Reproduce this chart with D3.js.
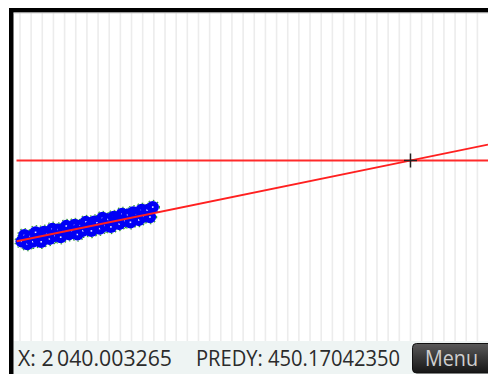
<!DOCTYPE html>
<html>
<head>
<meta charset="utf-8">
<script src="https://cdn.jsdelivr.net/npm/d3@7"></script>
<style>
  html, body { margin: 0; padding: 0; background: #fff; }
  svg { display: block; }
</style>
</head>
<body>
<svg id="chart" width="488" height="374"></svg>
<script>
// ---- data ----
const years = [1970.3,1970.8,1971.3,1971.8,1972.3,1972.8,1973.3,1973.8,1974.3,1974.8,
  1975.3,1975.8,1976.3,1976.8,1977.3,1977.8,1978.3,1978.8,1979.3,1979.8,
  1980.3,1980.8,1981.3,1981.8,1982.3,1982.8,1983.3,1983.8,1984.3,1984.8,
  1985.3,1985.8,1986.3,1986.8,1987.3,1987.8,1988.3,1988.8,1989.3,1989.8,
  1990.3,1990.8,1991.3,1991.8,1992.3,1992.8,1993.3,1993.8];
const values = [320.8,330.7,316.6,328.5,320.4,335.3,325.2,320.2,336.1,332.0,
  324.9,340.8,329.7,339.6,327.6,338.5,345.4,332.3,338.2,347.1,
  332.0,345.9,337.9,351.8,342.7,337.6,352.5,350.4,341.3,358.3,
  346.2,356.1,344.0,359.9,353.8,348.7,364.7,353.6,363.5,351.4,
  367.3,362.2,355.1,371.1,361.0,370.9,359.8,375.7];
const fitSlope = 1.828;
const traceX = 2040.003265;
const predY = 450.17042350;
const statusLabels = ["X: 2\u2009040.003265", "PREDY: 450.17042350"];
const menuLabel = "Menu";
const xDomain = [1968.75, 2053.9];
const yDomain = [160, 686];
const gridStep = 2;

// ---- layout ----
const svg = d3.select("#chart");
const W = 488, H = 374;
const plotLeft = 13.5, plotTop = 12.5, plotBottom = 341;
const x = d3.scaleLinear().domain(xDomain).range([13, 488]);
const y = d3.scaleLinear().domain(yDomain).range([342, 13]);
const fitIntercept = predY - fitSlope * traceX;
const fit = v => fitIntercept + fitSlope * v;

const defs = svg.append("defs");
defs.append("clipPath").attr("id", "plotclip").append("rect")
  .attr("x", plotLeft).attr("y", plotTop).attr("width", W - plotLeft).attr("height", plotBottom - plotTop);
const grad = defs.append("linearGradient").attr("id", "btn").attr("x1", 0).attr("y1", 0).attr("x2", 0).attr("y2", 1);
grad.append("stop").attr("offset", "0%").attr("stop-color", "#5a5a5a");
grad.append("stop").attr("offset", "45%").attr("stop-color", "#3a3a3a");
grad.append("stop").attr("offset", "100%").attr("stop-color", "#161616");

const plot = svg.append("g").attr("clip-path", "url(#plotclip)");

// grid
const gridVals = d3.range(1970, xDomain[1], gridStep);
plot.selectAll("line.grid").data(gridVals).join("line")
  .attr("class", "grid")
  .attr("x1", d => x(d)).attr("x2", d => x(d))
  .attr("y1", plotTop).attr("y2", plotBottom)
  .attr("stroke", "#ececec").attr("stroke-width", 1.6);

// scatter: green outline pass, then blue disks with white centre
const pts = years.map((yr, i) => ({ x: yr, y: values[i] }));
const R = 6.2;
plot.append("g").selectAll("circle").data(pts).join("circle")
  .attr("cx", d => x(d.x)).attr("cy", d => y(d.y)).attr("r", R + 0.5)
  .attr("fill", "none").attr("stroke", "#2e9e2e").attr("stroke-width", 1.2)
  .attr("stroke-dasharray", "1.5,3");
const pg = plot.append("g");
pts.forEach(d => {
  pg.append("circle").attr("cx", x(d.x)).attr("cy", y(d.y)).attr("r", R)
    .attr("fill", "#0000f5");
  pg.append("rect").attr("x", x(d.x) - 0.8).attr("y", y(d.y) - 0.8)
    .attr("width", 1.6).attr("height", 1.6).attr("fill", "#e8e8ff");
});

// horizontal prediction line
plot.append("line")
  .attr("x1", 16.5).attr("x2", W)
  .attr("y1", y(predY)).attr("y2", y(predY))
  .attr("stroke", "#ff2a2a").attr("stroke-width", 1.8);

// regression line
const xa = x.invert(16.7), xb = xDomain[1];
plot.append("line")
  .attr("x1", x(xa)).attr("y1", y(fit(xa)))
  .attr("x2", x(xb)).attr("y2", y(fit(xb)))
  .attr("stroke", "#ff2020").attr("stroke-width", 1.9);

// crosshair
const cx = x(traceX), cy = y(predY);
plot.append("line").attr("x1", cx).attr("x2", cx).attr("y1", cy - 7).attr("y2", cy + 7)
  .attr("stroke", "#222").attr("stroke-width", 1.5);
plot.append("line").attr("x1", cx - 6.5).attr("x2", cx + 6.5).attr("y1", cy).attr("y2", cy)
  .attr("stroke", "#222").attr("stroke-width", 1.5);

// status bar
svg.append("rect").attr("x", plotLeft).attr("y", plotBottom).attr("width", W - plotLeft).attr("height", H - plotBottom)
  .attr("fill", "#eef4f3");
const font = "'Open Sans', 'DejaVu Sans', sans-serif";
svg.append("text").attr("x", 18).attr("y", 365.5).text(statusLabels[0])
  .attr("font-family", font).attr("font-size", 21.5).attr("fill", "#2b2b2b")
  .attr("textLength", 154).attr("lengthAdjust", "spacingAndGlyphs");
svg.append("text").attr("x", 196).attr("y", 365.5).text(statusLabels[1])
  .attr("font-family", font).attr("font-size", 21.5).attr("fill", "#2b2b2b")
  .attr("textLength", 204).attr("lengthAdjust", "spacingAndGlyphs");

// menu button
svg.append("rect").attr("x", 412.5).attr("y", 343.5).attr("width", 84).attr("height", 29.5).attr("rx", 4)
  .attr("fill", "url(#btn)").attr("stroke", "#111").attr("stroke-width", 1);
svg.append("text").attr("x", 425).attr("y", 366).text(menuLabel)
  .attr("font-family", font).attr("font-size", 21.5).attr("fill", "#cfcfcf")
  .attr("textLength", 53).attr("lengthAdjust", "spacingAndGlyphs");

// black frame
svg.append("rect").attr("x", 9).attr("y", 8).attr("width", W - 9).attr("height", 4.5).attr("fill", "#000");
svg.append("rect").attr("x", 9).attr("y", 8).attr("width", 4.5).attr("height", H - 8).attr("fill", "#000");
svg.append("line").attr("x1", 13.5).attr("x2", W).attr("y1", 13).attr("y2", 13)
  .attr("stroke", "#c8c8c8").attr("stroke-width", 0.8);
</script>
</body>
</html>
